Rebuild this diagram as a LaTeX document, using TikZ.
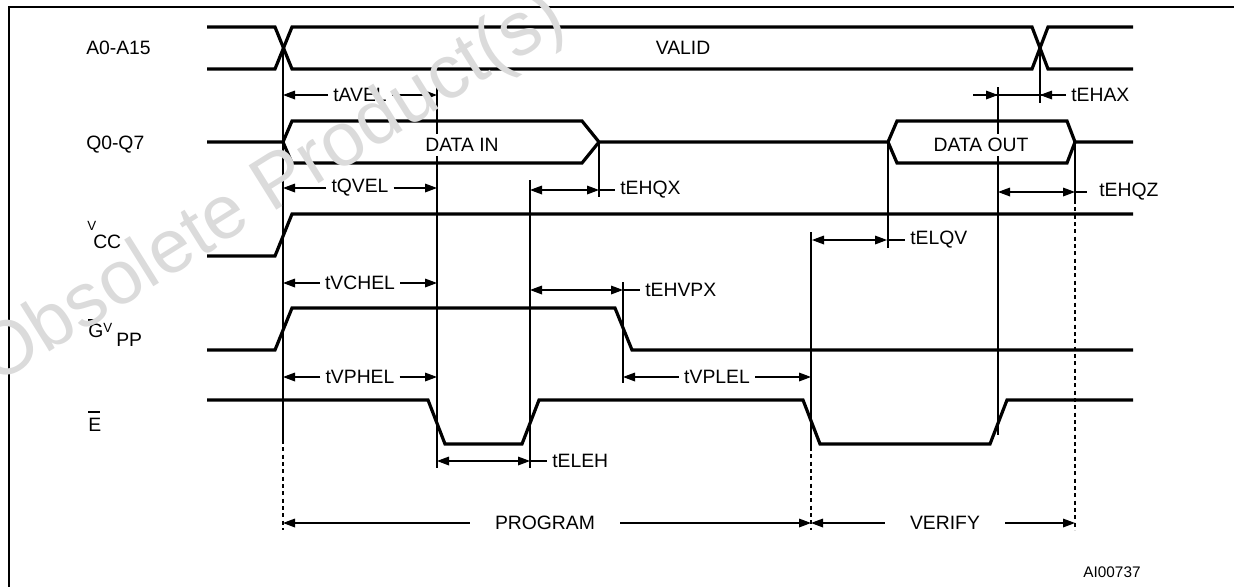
\documentclass[tikz,border=0pt]{standalone}
\usepackage{fontspec}
\setmainfont{Liberation Sans}
\usetikzlibrary{arrows.meta}
\begin{document}
\begin{tikzpicture}[x=0.75pt,y=-0.75pt,
  sig/.style={line width=2.4pt,line join=miter},
  dim/.style={line width=0.9pt},
  dimarr/.style={line width=0.9pt,-{Triangle[length=9pt,width=6.5pt]}},
  dimboth/.style={line width=0.9pt,{Triangle[length=9pt,width=6.5pt]}-{Triangle[length=9pt,width=6.5pt]}},
  dashv/.style={line width=0.9pt,dash pattern=on 3pt off 2.5pt},
  lbl/.style={font=\fontsize{14.5}{17}\selectfont,inner xsep=3.75pt,inner ysep=1pt},
  small/.style={font=\fontsize{10}{12}\selectfont,inner sep=0pt},
  wm/.style={font=\fontsize{57}{60}\selectfont,text=black!14,rotate=32}]
\useasboundingbox (0,0) rectangle (1234,586);
% frame
\draw[line width=1.6pt] (9,600) -- (9,7) -- (1250,7);

% ---------- vertical reference lines ----------
\draw[dim] (283,48) -- (283,440);
\draw[dashv] (283,440) -- (283,530);
\draw[dim] (437,87) -- (437,468);
\draw[dim] (530,180) -- (530,468);
\draw[dim] (599,142) -- (599,197);
\draw[dim] (623,282) -- (623,383);
\draw[dim] (811,232) -- (811,447);
\draw[dashv] (811,447) -- (811,530);
\draw[dim] (888,142) -- (888,248);
\draw[dim] (998,87) -- (998,435);
\draw[dim] (1040,48) -- (1040,103);
\draw[dim] (1075,142) -- (1075,200);
\draw[dashv] (1075,200) -- (1075,530);

% ---------- signals ----------
% A0-A15
\draw[sig] (207,27) -- (275,27) -- (292,69) -- (1032,69) -- (1048,27) -- (1133,27);
\draw[sig] (207,69) -- (275,69) -- (292,27) -- (1032,27) -- (1048,69) -- (1133,69);
% Q0-Q7
\draw[sig] (207,142) -- (283,142) -- (292,121) -- (582,121) -- (599,142) -- (888,142)
  -- (897,121) -- (1067,121) -- (1075,142) -- (1133,142);
\draw[sig] (283,142) -- (292,163) -- (582,163) -- (599,142);
\draw[sig] (888,142) -- (897,163) -- (1067,163) -- (1075,142);
% VCC
\draw[sig] (207,256) -- (275,256) -- (292,214) -- (1133,214);
% GVPP
\draw[sig] (207,350) -- (275,350) -- (292,308) -- (615,308) -- (632,350) -- (1133,350);
% E
\draw[sig] (207,400) -- (428,400) -- (445,444) -- (522,444) -- (539,400) -- (803,400)
  -- (820,444) -- (990,444) -- (1007,400) -- (1133,400);

% ---------- signal names ----------
\node[lbl,anchor=west,inner sep=0pt] (na) at (86,48) {A0-A15};
\node[lbl,anchor=west,inner sep=0pt] (nq) at (86,145) {Q0-Q7};
\node[small,anchor=west] (nv) at (87,226) {V};
\node[lbl,anchor=west,inner sep=0pt] (ncc) at (93,242) {CC};
\node[lbl,anchor=west,inner sep=0pt] (ng) at (88,331) {G};
\draw[line width=1pt] (88,320) coordinate (go1) -- (100,320) coordinate (go2);
\node[small,anchor=west] (nv2) at (103,328) {V};
\node[lbl,anchor=west,inner sep=0pt] (npp) at (116,340) {PP};
\node[lbl,anchor=west,inner sep=0pt] (ne) at (88,425) {E};
\draw[line width=1pt] (88,412) coordinate (eo1) -- (100,412) coordinate (eo2);

% ---------- bus values ----------
\node[lbl,fill=white] (valid) at (683,48) {VALID};
\node[lbl,fill=white,inner ysep=3pt] (din) at (462,145) {DATA IN};
\node[lbl,fill=white,inner ysep=3pt] (dout) at (981,145) {DATA OUT};

% ---------- timing parameters (left group) ----------
\node[lbl] (tavel) at (360,95) {tAVEL};
\draw[dimarr] (tavel.west) -- (283,95);
\draw[dimarr] (tavel.east) -- (437,95);
\node[lbl] (tqvel) at (360,188) {tQVEL};
\draw[dimarr] (tqvel.west) -- (283,188);
\draw[dimarr] (tqvel.east) -- (437,188);
\node[lbl] (tvchel) at (360,283) {tVCHEL};
\draw[dimarr] (tvchel.west) -- (283,283);
\draw[dimarr] (tvchel.east) -- (437,283);
\node[lbl] (tvphel) at (360,377) {tVPHEL};
\draw[dimarr] (tvphel.west) -- (283,377);
\draw[dimarr] (tvphel.east) -- (437,377);
\node[lbl] (tvplel) at (717,377) {tVPLEL};
\draw[dimarr] (tvplel.west) -- (623,377);
\draw[dimarr] (tvplel.east) -- (811,377);

% ---------- timing parameters (right labels) ----------
\draw[dimboth] (530,190) -- (599,190);
\node[lbl,anchor=west] (tehqx) at (615,190) {tEHQX};
\draw[dim] (599,190) -- (tehqx.west);

\draw[dimboth] (530,290) -- (623,290);
\node[lbl,anchor=west] (tehvpx) at (640,290) {tEHVPX};
\draw[dim] (623,290) -- (tehvpx.west);

\draw[dimboth] (437,461) -- (530,461);
\node[lbl,anchor=west] (teleh) at (547,461) {tELEH};
\draw[dim] (530,461) -- (teleh.west);

\draw[dimboth] (812,240) -- (887,240);
\node[lbl,anchor=west] (telqv) at (905,240) {tELQV};
\draw[dim] (887,240) -- (telqv.west);

\draw[dimboth] (998,192) -- (1075,192);
\node[lbl,anchor=west] (tehqz) at (1094,192) {tEHQZ};
\draw[dim] (1075,192) -- (1087,192);

\node[lbl,anchor=west] (tehax) at (1066,95) {tEHAX};
\draw[dim] (973,95) -- (tehax.west);
\draw[dimarr] (973,95) -- (998,95);
\draw[dimarr] (tehax.west) -- (1040,95);

% ---------- phases ----------
\node[lbl] (prog) at (545,523) {PROGRAM};
\draw[dimarr] (prog.west) ++(-20,0) -- (283,523);
\draw[dimarr] (prog.east) ++(20,0) -- (811,523);
\node[lbl] (ver) at (945,523) {VERIFY};
\draw[dimarr] (ver.west) ++(-20,0) -- (811,523);
\draw[dimarr] (ver.east) ++(20,0) -- (1075,523);

\node[font=\fontsize{11.5}{13}\selectfont,inner sep=0pt] (ai) at (1112,572) {AI00737};

% ---------- watermark ----------
\node[wm] (wmark) at (272,190) {Obsolete Product(s)};
\end{tikzpicture}
\end{document}
